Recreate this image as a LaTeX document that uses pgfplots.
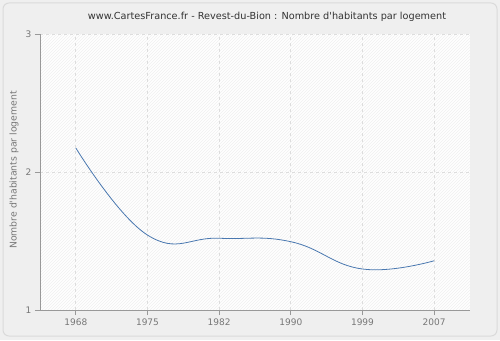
\documentclass[border=0pt]{standalone}
\usepackage{pgfplots}
\pgfplotsset{compat=1.18}
\usepackage{fontspec}
\setmainfont{DejaVu Sans}
\usetikzlibrary{patterns}
\definecolor{outerbg}{HTML}{EFEFEF}
\definecolor{framec}{HTML}{DADADA}
\definecolor{plotbg}{HTML}{FFFFFF}
\definecolor{hatch}{HTML}{F0F0F0}
\definecolor{gridc}{HTML}{DDDDDD}
\definecolor{axisc}{HTML}{999999}
\definecolor{labc}{HTML}{777777}
\definecolor{titlec}{HTML}{333333}
\definecolor{linec}{HTML}{4A78B0}
\begin{document}
\begin{tikzpicture}[x=1pt,y=1pt]
\fill[outerbg] (0,0) rectangle (500,340);
\draw[framec, line width=1pt, rounded corners=6pt, fill=outerbg] (3,4) rectangle (497,337);
\node[titlec, font=\fontsize{9.7}{11}\selectfont] at (267,323) {www.CartesFrance.fr - Revest-du-Bion : Nombre d\textquotesingle habitants par logement};
\node[labc, rotate=90, font=\fontsize{9.3}{11}\selectfont] at (14,170) {Nombre d\textquotesingle habitants par logement};
\begin{axis}[
  at={(40pt,30pt)}, anchor=south west,
  scale only axis, width=430pt, height=276pt,
  xmin=-0.5, xmax=5.5, ymin=1, ymax=3,
  xtick={0,1,2,3,4,5},
  xticklabels={1968,1975,1982,1990,1999,2007},
  ytick={1,2,3},
  axis x line*=bottom, axis y line*=left,
  axis line style={axisc, line width=0.9pt, -},
  tick style={axisc, line width=0.9pt},
  tick align=outside,
  major tick length=5pt,
  grid=major,
  major grid style={gridc, dashed, line width=0.7pt},
  tick label style={labc, font=\fontsize{9}{10}\selectfont},
  /pgf/number format/assume math mode=true,
  axis background/.style={fill=plotbg, postaction={pattern=north east lines, pattern color=hatch}},
  clip=false,
]
\addplot[linec, line width=0.8pt, smooth, tension=0.75] coordinates {
  (0,2.174) (1,1.543) (2,1.52) (3,1.495) (4,1.297) (5,1.357)
};
\end{axis}
\end{tikzpicture}
\end{document}
